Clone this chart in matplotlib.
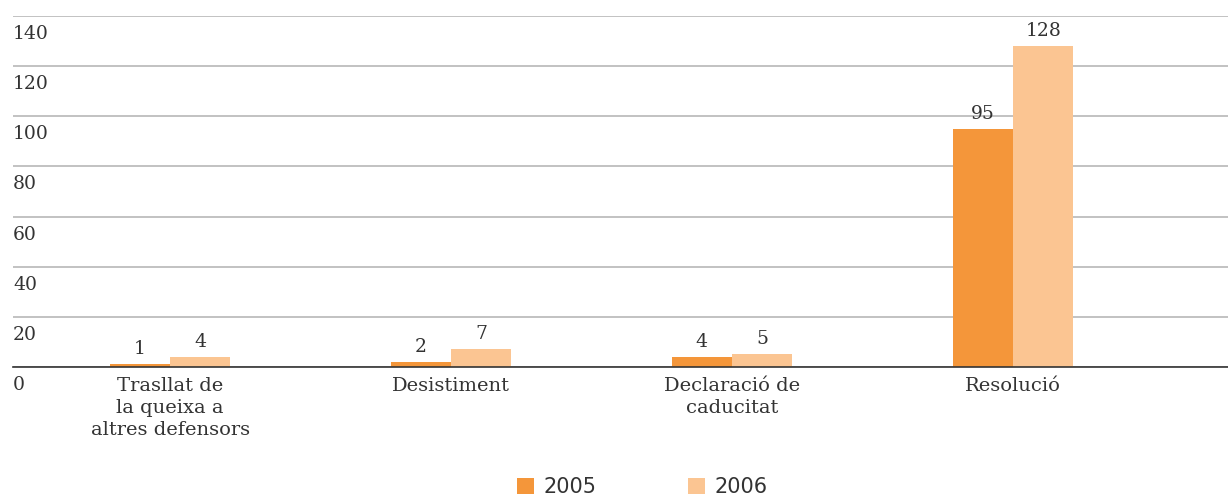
import matplotlib.pyplot as plt
import matplotlib.transforms as mtransforms
import numpy as np

categories = ["Trasllat de\nla queixa a\naltres defensors", "Desistiment",
              "Declaració de\ncaducitat", "Resolució"]
years = ["2005", "2006"]
values_2005 = [1, 2, 4, 95]
values_2006 = [4, 7, 5, 128]
yticks = [0, 20, 40, 60, 80, 100, 120, 140]

colors = ["#F4963A", "#FBC592"]
text_col = "#333333"
serif = "DejaVu Serif"

fig = plt.figure(figsize=(12.28, 4.96), dpi=100)
ax = fig.add_axes([13 / 1228, 1 - 367 / 496, 1 - 13 / 1228, (367 - 16) / 496])

x = np.arange(len(categories))
w = 0.215
b1 = ax.bar(x - w / 2, values_2005, w, color=colors[0], label=years[0], zorder=3)
b2 = ax.bar(x + w / 2, values_2006, w, color=colors[1], label=years[1], zorder=3)

# etiquetes de valor sobre cada barra
for bars in (b1, b2):
    for r in bars:
        ax.annotate(str(int(r.get_height())), (r.get_x() + r.get_width() / 2, r.get_height()),
                    xytext=(0, 4.5), textcoords="offset points", ha="center", va="bottom",
                    fontsize=13.5, family=serif, color=text_col)

ax.set_xlim(-0.559, 3.765)
ax.set_ylim(0, 140)
ax.set_yticks(yticks)
ax.set_yticklabels([str(t) for t in yticks])
ax.yaxis.grid(True, color="#b8b8b8", linewidth=1.2, zorder=0)
ax.tick_params(axis="y", length=0, pad=0)
shift = mtransforms.ScaledTranslation(0, -6.5 / 72, fig.dpi_scale_trans)
for lab in ax.get_yticklabels():
    lab.set_horizontalalignment("left")
    lab.set_verticalalignment("top")
    lab.set_transform(lab.get_transform() + shift)
    lab.set_fontfamily(serif)
    lab.set_fontsize(13.5)
    lab.set_color(text_col)

ax.set_xticks(x)
ax.set_xticklabels(categories, fontsize=14, family=serif, color=text_col, linespacing=1.3)
ax.tick_params(axis="x", length=0, pad=7)

for s in ["top", "right", "left"]:
    ax.spines[s].set_visible(False)
ax.spines["bottom"].set_color("#333333")
ax.spines["bottom"].set_linewidth(1.2)
ax.spines["bottom"].set_zorder(4)

fig.legend(loc="lower center", bbox_to_anchor=(0.523, -0.04), ncol=2, frameon=False,
           fontsize=15, handlelength=0.8, handleheight=0.8, columnspacing=4.4,
           handletextpad=0.45, labelcolor=text_col)

fig.savefig("out.png", dpi=100)
